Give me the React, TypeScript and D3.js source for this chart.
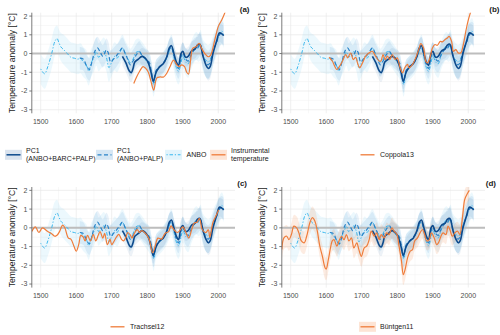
import React from "react";
import * as d3 from "d3";

// ---------- data ----------
const xTicks = [1500, 1600, 1700, 1800, 1900, 2000];
const xMinorTicks = [1550, 1650, 1750, 1850, 1950];
const yTicks = [-3, -2, -1, 0, 1, 2];
const yMinorTicks = [-2.5, -1.5, -0.5, 0.5, 1.5];
const X_DOMAIN: [number, number] = [1475, 2047];
const Y_DOMAIN: [number, number] = [-3.19, 2.18];

// [year, value, ribbon half-width]
const anbo: number[][] = [
  [1500, -0.82, 0.8], [1511, -1.08, 0.8], [1520, -0.7, 0.8], [1531, 0.0, 0.8], [1540, 0.65, 0.75],
  [1546, 0.8, 0.7], [1551, 0.6, 0.7], [1557, 0.35, 0.75], [1565, 0.2, 0.8], [1575, 0.0, 0.8],
  [1585, -0.2, 0.8], [1595, -0.25, 0.8], [1605, -0.3, 0.8], [1612, -0.25, 0.8], [1620, -0.45, 0.8],
  [1628, -0.6, 0.8], [1635, -0.95, 0.75], [1642, -0.5, 0.75], [1650, -0.2, 0.75], [1657, 0.1, 0.75],
  [1663, -0.2, 0.75], [1670, -0.05, 0.75], [1678, 0.1, 0.75], [1685, -0.2, 0.75], [1692, -0.75, 0.75],
  [1700, -0.45, 0.75], [1708, -0.15, 0.75], [1715, -0.25, 0.75], [1722, 0.0, 0.75], [1730, 0.3, 0.7],
  [1738, 0.0, 0.7], [1745, -0.25, 0.7], [1752, -0.5, 0.75], [1760, -0.3, 0.75], [1768, 0.05, 0.7],
  [1775, 0.1, 0.7], [1782, 0.0, 0.7], [1790, -0.2, 0.7], [1797, -0.4, 0.7], [1805, -0.6, 0.7],
  [1812, -1.1, 0.65], [1818, -1.65, 0.65], [1825, -1.0, 0.65], [1835, -0.75, 0.65], [1845, -0.55, 0.65],
  [1855, -0.25, 0.65], [1862, 0.1, 0.7], [1868, 0.3, 0.7], [1875, -0.2, 0.7], [1882, -0.75, 0.7],
  [1888, -0.95, 0.7], [1895, -0.5, 0.7], [1900, -0.1, 0.7], [1908, -0.45, 0.7], [1915, -0.55, 0.75],
  [1922, -0.2, 0.75], [1930, 0.2, 0.75], [1938, 0.4, 0.75], [1945, 0.3, 0.75], [1950, 0.45, 0.8],
  [1957, -0.1, 0.85], [1965, -0.35, 0.9], [1972, -0.45, 0.9], [1980, -0.2, 0.85], [1988, 0.3, 0.8],
  [1995, 0.6, 0.75], [2003, 1.0, 0.7], [2010, 1.2, 0.7], [2015, 1.0, 0.7],
];

const pc1Palp: number[][] = [
  [1610, -0.25, 0.6], [1620, -0.3, 0.6], [1630, -0.7, 0.6], [1637, -0.85, 0.6], [1645, -0.4, 0.6],
  [1652, 0.1, 0.6], [1660, 0.3, 0.6], [1667, 0.1, 0.6], [1675, -0.15, 0.6], [1685, 0.2, 0.6],
  [1690, 0.05, 0.6], [1697, -0.45, 0.6], [1705, -0.3, 0.6], [1712, -0.15, 0.6], [1720, 0.05, 0.55],
  [1730, 0.3, 0.55], [1738, 0.0, 0.55], [1745, -0.3, 0.6], [1752, -0.6, 0.6], [1760, -0.4, 0.6],
  [1770, -0.05, 0.55], [1778, 0.1, 0.55], [1785, -0.1, 0.55], [1795, -0.3, 0.55], [1805, -0.45, 0.55],
  [1812, -1.0, 0.55], [1818, -1.55, 0.55], [1825, -0.9, 0.55], [1835, -0.7, 0.55], [1845, -0.5, 0.55],
  [1855, -0.2, 0.55], [1862, 0.2, 0.55], [1868, 0.35, 0.55], [1875, -0.1, 0.55], [1882, -0.6, 0.55],
  [1888, -0.8, 0.55], [1895, -0.2, 0.55], [1900, 0.05, 0.55], [1908, -0.3, 0.6], [1915, -0.4, 0.6],
  [1925, 0.0, 0.6], [1935, 0.25, 0.6], [1942, 0.3, 0.6], [1948, 0.5, 0.65], [1957, -0.1, 0.7],
  [1965, -0.5, 0.75], [1972, -0.6, 0.75], [1978, -0.4, 0.7], [1985, 0.1, 0.65], [1995, 0.6, 0.6],
  [2003, 1.0, 0.6], [2010, 1.1, 0.6], [2015, 1.0, 0.6],
];

const pc1All: number[][] = [
  [1730, -0.15, 0.5], [1740, -0.5, 0.5], [1750, -0.95, 0.5], [1755, -1.02, 0.5], [1760, -0.8, 0.5],
  [1765, -0.45, 0.5], [1775, -0.3, 0.45], [1785, -0.15, 0.45], [1795, -0.25, 0.45], [1803, -0.5, 0.45],
  [1810, -0.95, 0.45], [1817, -1.47, 0.45], [1825, -1.0, 0.45], [1835, -0.7, 0.45], [1845, -0.55, 0.45],
  [1855, -0.17, 0.45], [1862, 0.3, 0.45], [1868, 0.42, 0.45], [1875, 0.0, 0.45], [1882, -0.45, 0.45],
  [1888, -0.63, 0.45], [1895, 0.0, 0.45], [1900, 0.12, 0.45], [1908, -0.2, 0.5], [1915, -0.15, 0.5],
  [1925, 0.15, 0.5], [1935, 0.25, 0.5], [1941, 0.45, 0.55], [1948, 0.5, 0.55], [1957, -0.15, 0.6],
  [1965, -0.6, 0.65], [1972, -0.8, 0.65], [1977, -0.7, 0.65], [1985, 0.0, 0.6], [1995, 0.65, 0.55],
  [2003, 1.1, 0.5], [2010, 1.05, 0.5], [2015, 0.95, 0.5],
];

// [year, value]
const instrumental: number[][] = [
  [1762, -1.6], [1770, -1.25], [1779, -0.93], [1788, -0.7], [1795, -0.78], [1803, -1.0],
  [1810, -1.45], [1818, -1.95], [1827, -1.3], [1836, -1.25], [1846, -1.25], [1855, -1.05],
  [1864, -0.7], [1874, -0.35], [1883, -0.6], [1890, -0.7], [1897, -0.6], [1905, -0.7],
  [1911, -1.0], [1916, -1.1], [1922, -0.35], [1928, 0.28], [1937, 0.36], [1946, 0.55],
  [1953, 0.28], [1962, 0.0], [1972, -0.17], [1978, -0.1], [1991, 0.8], [2000, 1.45],
  [2010, 1.8], [2020, 2.25],
];

const coppola13: number[][] = [
  [1608, -0.2], [1617, -0.4], [1630, -0.85], [1636, -0.73], [1646, -0.4], [1655, -0.05],
  [1660, -0.23], [1669, 0.03], [1676, -0.32], [1683, -0.2], [1688, -0.5], [1694, -0.76],
  [1702, -0.5], [1711, -0.14], [1721, 0.04], [1730, 0.12], [1739, -0.14], [1749, -0.4],
  [1754, -0.4], [1760, -0.05], [1766, -0.32], [1772, -0.14], [1779, -0.32], [1786, -0.05],
  [1794, -0.32], [1800, -0.23], [1808, -0.76], [1815, -1.03], [1821, -0.76], [1829, -0.58],
  [1833, -0.76], [1843, -0.58], [1852, -0.23], [1862, 0.3], [1866, 0.53], [1874, 0.3],
  [1880, -0.4], [1885, -0.5], [1892, -0.23], [1899, 0.3], [1906, 0.48], [1913, 0.44],
  [1921, 0.65], [1927, 0.62], [1934, 0.74], [1941, 0.83], [1946, 0.92], [1953, 0.65],
  [1958, 0.12], [1965, 0.21], [1971, 0.04], [1979, 0.04], [1986, 0.48], [1993, 1.19],
  [1999, 1.72], [2007, 2.25],
];

const trachsel12: number[][] = [
  [1475, -0.2], [1485, 0.05], [1495, -0.25], [1505, 0.0], [1520, -0.2], [1530, -0.3],
  [1540, -0.45], [1546, -0.4], [1553, -0.2], [1562, 0.15], [1568, 0.0], [1578, -0.55],
  [1585, -0.6], [1594, -1.0], [1600, -1.25], [1607, -0.9], [1613, -0.4], [1620, -0.5],
  [1625, -0.7], [1632, -0.4], [1640, -0.7], [1648, -0.35], [1655, -0.7], [1662, -0.4],
  [1667, -0.2], [1675, -0.55], [1680, -0.3], [1688, -0.9], [1695, -0.6], [1700, -0.9],
  [1707, -0.7], [1713, -0.5], [1720, -0.35], [1727, -0.6], [1733, -0.7], [1740, -0.5],
  [1745, -0.25], [1753, -0.4], [1757, -0.55], [1765, -0.25], [1772, -0.1], [1778, -0.25],
  [1785, -0.15], [1795, -0.3], [1805, -0.6], [1815, -1.33], [1822, -1.0], [1830, -0.55],
  [1840, -0.6], [1850, -0.3], [1860, -0.2], [1867, 0.1], [1875, -0.1], [1885, -0.25],
  [1893, -0.1], [1900, 0.05], [1910, -0.3], [1917, -0.55], [1925, -0.1], [1932, 0.25],
  [1940, 0.3], [1947, 0.5], [1955, -0.1], [1965, -0.25], [1972, -0.1], [1976, -0.5],
  [1985, 0.3], [1995, 0.7], [2001, 0.97],
];

// [year, value, ribbon half-width]
const buentgen11: number[][] = [
  [1475, -1.16, 0.6], [1481, -0.54, 0.6], [1489, -0.45, 0.6], [1495, -0.63, 0.6], [1502, -0.36, 0.6],
  [1509, 0.09, 0.6], [1517, 0.0, 0.6], [1523, -0.27, 0.6], [1530, -0.7, 0.6], [1538, -0.8, 0.6],
  [1545, -0.45, 0.6], [1554, 0.27, 0.6], [1561, 0.54, 0.6], [1568, 0.36, 0.6], [1575, -0.18, 0.6],
  [1582, -0.98, 0.6], [1589, -1.5, 0.6], [1597, -2.14, 0.6], [1600, -2.2, 0.6], [1606, -1.7, 0.6],
  [1613, -0.98, 0.55], [1617, -0.7, 0.55], [1622, -0.63, 0.55], [1630, -0.98, 0.55], [1636, -0.7, 0.55],
  [1643, -0.45, 0.55], [1650, -0.63, 0.55], [1657, -0.36, 0.55], [1664, -0.7, 0.55], [1671, -0.54, 0.55],
  [1678, -1.07, 0.55], [1686, -0.8, 0.55], [1692, -1.16, 0.55], [1699, -1.52, 0.55], [1707, -1.07, 0.55],
  [1714, -0.98, 0.55], [1721, -0.63, 0.55], [1727, -0.18, 0.55], [1735, -0.45, 0.55], [1742, -0.27, 0.55],
  [1749, -0.63, 0.55], [1755, -0.36, 0.55], [1763, -0.54, 0.55], [1770, -0.27, 0.55], [1777, -0.36, 0.55],
  [1785, 0.0, 0.55], [1791, -0.18, 0.55], [1799, -0.36, 0.55], [1805, -0.98, 0.55], [1812, -1.79, 0.55],
  [1817, -2.5, 0.55], [1822, -2.23, 0.55], [1829, -1.6, 0.55], [1836, -1.25, 0.55], [1843, -1.16, 0.5],
  [1849, -0.7, 0.5], [1857, -0.54, 0.5], [1864, -0.27, 0.5], [1871, -0.09, 0.5], [1877, -0.36, 0.5],
  [1883, -0.7, 0.5], [1890, -0.63, 0.5], [1896, -0.27, 0.5], [1904, -0.54, 0.5], [1911, -0.9, 0.5],
  [1916, -0.8, 0.5], [1923, -0.45, 0.5], [1929, -0.27, 0.5], [1937, -0.36, 0.5], [1943, 0.09, 0.5],
  [1948, -0.09, 0.5], [1955, -0.45, 0.5], [1962, -0.27, 0.5], [1970, -0.18, 0.5], [1976, -0.36, 0.5],
  [1984, 0.63, 0.5], [1990, 1.52, 0.5], [1998, 1.85, 0.5], [2003, 2.0, 0.5],
];

// ---------- styles ----------
const C_DARK = "#0d4a8c";
const C_MID = "#2a83c8";
const C_LIGHT = "#3bb8ee";
const C_ORANGE = "#ef7c3a";
const FONT = "'Liberation Sans', Arial, sans-serif";

type PanelProps = {
  id: string;
  ox: number;
  oy: number;
  label: string;
  labelX: number;
  orange: number[][];
  orangeRibbon?: boolean;
};

function Panel({ id, ox, oy, label, labelX, orange, orangeRibbon }: PanelProps) {
  const left = ox + 31.8;
  const right = ox + 235;
  const top = oy + 12.7;
  const bottom = oy + 113.3;
  const x = d3.scaleLinear().domain(X_DOMAIN).range([left, right]);
  const y = d3.scaleLinear().domain(Y_DOMAIN).range([bottom, top]);
  const curve = d3.curveCatmullRom.alpha(0.5);
  const line = d3
    .line<number[]>()
    .x((d) => x(d[0]))
    .y((d) => y(d[1]))
    .curve(curve);
  const area = d3
    .area<number[]>()
    .x((d) => x(d[0]))
    .y0((d) => y(d[1] - d[2]))
    .y1((d) => y(d[1] + d[2]))
    .curve(curve);
  const clipId = `clip-${id}`;
  return (
    <g>
      <defs>
        <clipPath id={clipId}>
          <rect x={left} y={top} width={right - left} height={bottom - top} />
        </clipPath>
      </defs>
      {/* grid */}
      {yMinorTicks.map((t) => (
        <line key={`ym${t}`} x1={left} x2={right} y1={y(t)} y2={y(t)} stroke="#f3f3f3" strokeWidth={0.6} />
      ))}
      {xMinorTicks.map((t) => (
        <line key={`xm${t}`} x1={x(t)} x2={x(t)} y1={top} y2={bottom} stroke="#f3f3f3" strokeWidth={0.6} />
      ))}
      {yTicks.map((t) => (
        <line key={`yg${t}`} x1={left} x2={right} y1={y(t)} y2={y(t)} stroke="#e8e8e8" strokeWidth={0.7} />
      ))}
      {xTicks.map((t) => (
        <line key={`xg${t}`} x1={x(t)} x2={x(t)} y1={top} y2={bottom} stroke="#e8e8e8" strokeWidth={0.7} />
      ))}
      <g clipPath={`url(#${clipId})`}>
        {/* ribbons */}
        <path d={area(anbo) || ""} fill="#7fcdf2" fillOpacity={0.15} />
        <path d={area(pc1Palp) || ""} fill="#4a95cf" fillOpacity={0.13} />
        <path d={area(pc1All) || ""} fill="#1f5c9e" fillOpacity={0.08} />
        {orangeRibbon && <path d={area(orange) || ""} fill="#f08a4b" fillOpacity={0.16} />}
        {/* zero line */}
        <line x1={left} x2={right} y1={y(0)} y2={y(0)} stroke="#bdbdbd" strokeWidth={2} />
        {/* lines */}
        <path d={line(anbo) || ""} fill="none" stroke={C_LIGHT} strokeWidth={1} strokeDasharray="1.2,1.8,3.5,1.8" />
        <path d={line(pc1Palp) || ""} fill="none" stroke={C_MID} strokeWidth={1.2} strokeDasharray="4,2.5" />
        <path d={line(pc1All) || ""} fill="none" stroke={C_DARK} strokeWidth={1.6} />
        <path d={line(orange) || ""} fill="none" stroke={C_ORANGE} strokeWidth={1.2} />
      </g>
      {/* y axis */}
      <line x1={left} x2={left} y1={top} y2={bottom} stroke="#5a5a5a" strokeWidth={0.8} />
      {yTicks.map((t) => (
        <g key={`yt${t}`}>
          <line x1={left - 2.5} x2={left} y1={y(t)} y2={y(t)} stroke="#5a5a5a" strokeWidth={0.8} />
          <text x={left - 4.5} y={y(t)} dy="0.35em" textAnchor="end" fontSize={7} fill="#4d4d4d" fontFamily={FONT}>
            {t}
          </text>
        </g>
      ))}
      {xTicks.map((t) => (
        <text key={`xt${t}`} x={x(t)} y={oy + 124} textAnchor="middle" fontSize={7} fill="#4d4d4d" fontFamily={FONT}>
          {t}
        </text>
      ))}
      <text
        transform={`translate(${ox + 14.5},${(top + bottom) / 2}) rotate(-90)`}
        textAnchor="middle"
        fontSize={8.6}
        fill="#1a1a1a"
        fontFamily={FONT}
      >
        Temperature anomaly [°C]
      </text>
      <text x={labelX} y={oy + 12} textAnchor="end" fontSize={8} fontWeight="bold" fill="#1a1a1a" fontFamily={FONT}>
        {label}
      </text>
    </g>
  );
}

type KeyProps = { x: number; y: number; bg: string; color: string; dash?: string; width?: number };
function LegendKey({ x, y, bg, color, dash, width = 1.5 }: KeyProps) {
  return (
    <g>
      <rect x={x} y={y - 5} width={17} height={10} fill={bg} />
      <line x1={x + 1.5} x2={x + 15.5} y1={y} y2={y} stroke={color} strokeWidth={width} strokeDasharray={dash} />
    </g>
  );
}

function LegendText({ x, y, lines }: { x: number; y: number; lines: string[] }) {
  const start = y - ((lines.length - 1) * 8) / 2;
  return (
    <text x={x} fontSize={7} fill="#1a1a1a" fontFamily={FONT}>
      {lines.map((l, i) => (
        <tspan key={i} x={x} y={start + i * 8} dy="0.35em">
          {l}
        </tspan>
      ))}
    </text>
  );
}

export default function App() {
  const row2 = 174.3;
  const ly1 = 154.8;
  const ly2 = ly1 + 172;
  return (
    <svg
      width={500}
      height={335}
      style={{ position: "absolute", left: 0, top: 0, background: "#ffffff" }}
    >
      <rect x={0} y={0} width={500} height={335} fill="#ffffff" />
      <Panel id="a" ox={0} oy={0} label="(a)" labelX={249.5} orange={instrumental} />
      <Panel id="b" ox={250} oy={0} label="(b)" labelX={499.5} orange={coppola13} />
      <Panel id="c" ox={0} oy={row2} label="(c)" labelX={247} orange={trachsel12} />
      <Panel id="d" ox={250} oy={row2} label="(d)" labelX={496} orange={buentgen11} orangeRibbon />

      {/* legend row 1 */}
      <LegendKey x={5} y={ly1} bg="#dae3ee" color={C_DARK} />
      <LegendText x={26} y={ly1} lines={["PC1", "(ANBO+BARC+PALP)"]} />
      <LegendKey x={96} y={ly1} bg="#d6e7f4" color={C_MID} dash="4,2.5" width={1.3} />
      <LegendText x={117} y={ly1} lines={["PC1", "(ANBO+PALP)"]} />
      <LegendKey x={165} y={ly1} bg="#e2f4fc" color={C_LIGHT} dash="1.2,1.8,3.5,1.8" width={1.1} />
      <LegendText x={186.5} y={ly1} lines={["ANBO"]} />
      <LegendKey x={210} y={ly1} bg="#fde4d5" color={C_ORANGE} width={1.3} />
      <LegendText x={231} y={ly1} lines={["Instrumental", "temperature"]} />
      <LegendKey x={359} y={ly1} bg="#ffffff" color={C_ORANGE} width={1.3} />
      <LegendText x={380} y={ly1} lines={["Coppola13"]} />

      {/* legend row 2 */}
      <LegendKey x={109} y={ly2} bg="#ffffff" color={C_ORANGE} width={1.3} />
      <LegendText x={130} y={ly2} lines={["Trachsel12"]} />
      <LegendKey x={359} y={ly2} bg="#fde4d5" color={C_ORANGE} width={1.3} />
      <LegendText x={380} y={ly2} lines={["Büntgen11"]} />
    </svg>
  );
}
